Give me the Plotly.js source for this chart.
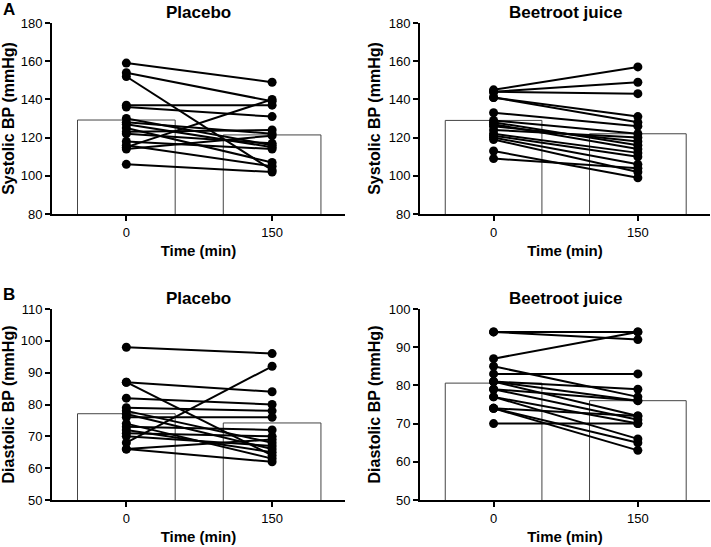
<!DOCTYPE html>
<html><head><meta charset="utf-8">
<script src="https://cdn.plot.ly/plotly-3.0.1.min.js"></script>
<style>html,body{margin:0;padding:0;background:#fff}#chart{width:711px;height:547px}</style>
</head><body><div id="chart"></div>
<script>
// ---- data ----
const times = ['0', '150'];
const tickLabels = ['0', '150'];

// Panel A left: Placebo, systolic BP (mmHg)
const placeboSBP0   = [159, 154, 152, 137, 136, 130, 128, 127, 125, 123, 122, 118, 116, 115, 114, 106];
const placeboSBP150 = [149, 139, 103, 137, 131, 116, 122, 115, 107, 124, 117, 114, 105, 140, 121, 102];
const placeboSBPMean = [129.2, 121.4];

// Panel A right: Beetroot juice, systolic BP
const beetSBP0   = [145, 144, 144, 141, 141, 133, 129, 128, 127, 126, 124, 122, 121, 120, 119, 113, 109];
const beetSBP150 = [157, 149, 143, 131, 128, 126, 122, 116, 114, 118, 120, 112, 110, 106, 102, 99, 104];
const beetSBPMean = [129.0, 122.0];

// Panel B left: Placebo, diastolic BP
const placeboDBP0   = [98, 87, 87, 82, 79, 78, 77, 76, 74, 73, 72, 71, 70, 68, 66, 66];
const placeboDBP150 = [96, 84, 64, 80, 78, 68, 66, 76, 63, 72, 65, 70, 67, 92, 69, 62];
const placeboDBPMean = [77.1, 74.2];

// Panel B right: Beetroot juice, diastolic BP
const beetDBP0   = [94, 94, 87, 85, 83, 81, 81, 81, 79, 79, 77, 77, 74, 74, 74, 70];
const beetDBP150 = [94, 92, 94, 77, 83, 79, 76, 72, 71, 76, 70, 66, 72, 65, 63, 70];
const beetDBPMean = [80.6, 76.0];

const panelTitles = ['Placebo', 'Beetroot juice', 'Placebo', 'Beetroot juice'];
const yTitles = ['Systolic BP (mmHg)', 'Systolic BP (mmHg)', 'Diastolic BP (mmHg)', 'Diastolic BP (mmHg)'];
const sigMarks = ['*', '*', '', '**'];

// ---- build ----
const W = 711, H = 547;
const FONT = 'Liberation Sans, Arial, sans-serif';
const px = (a, b) => [a / W, b / W];
const py = (top, bottom) => [1 - bottom / H, 1 - top / H];

const panels = [
  {t0: placeboSBP0, t1: placeboSBP150, mean: placeboSBPMean, xd: px(52, 345), yd: py(23, 214), yr: [80, 180], dt: 20},
  {t0: beetSBP0, t1: beetSBP150, mean: beetSBPMean, xd: px(420, 710), yd: py(23, 214), yr: [80, 180], dt: 20},
  {t0: placeboDBP0, t1: placeboDBP150, mean: placeboDBPMean, xd: px(52, 345), yd: py(309, 500), yr: [50, 110], dt: 10},
  {t0: beetDBP0, t1: beetDBP150, mean: beetDBPMean, xd: px(420, 710), yd: py(309, 500), yr: [50, 100], dt: 10}
];

const traces = [];
const layout = {
  width: W, height: H, margin: {l: 0, r: 0, t: 0, b: 0},
  paper_bgcolor: '#fff', plot_bgcolor: '#fff', showlegend: false,
  font: {family: FONT, color: '#000', size: 12},
  annotations: []
};

panels.forEach((p, i) => {
  const n = i + 1;
  const xa = 'x' + (n === 1 ? '' : n), ya = 'y' + (n === 1 ? '' : n);
  traces.push({
    type: 'bar', x: times, y: p.mean, xaxis: xa, yaxis: ya, width: 0.67,
    marker: {color: '#fff', line: {color: '#444', width: 1}}, hoverinfo: 'skip'
  });
  for (let k = 0; k < p.t0.length; k++) {
    traces.push({
      type: 'scatter', mode: 'lines+markers', x: times, y: [p.t0[k], p.t1[k]],
      xaxis: xa, yaxis: ya, cliponaxis: false,
      line: {color: '#000', width: 2}, marker: {color: '#000', size: 9}
    });
  }
  const axX = {
    domain: p.xd, anchor: ya, type: 'category', range: [-0.51, 1.5],
    showline: true, linecolor: '#000', linewidth: 2, ticks: 'outside', ticklen: 5, tickwidth: 2, tickcolor: '#000',
    tickvals: times, ticktext: tickLabels, showgrid: false, zeroline: false, fixedrange: true,
    tickfont: {family: FONT, size: 13, color: '#000'},
    title: {text: '<b>Time (min)</b>', font: {family: FONT, size: 15, color: '#000'}, standoff: 7}
  };
  const axY = {
    domain: p.yd, anchor: xa, range: p.yr, dtick: p.dt, tick0: p.yr[0],
    showline: true, linecolor: '#000', linewidth: 2, ticks: 'outside', ticklen: 5, tickwidth: 2, tickcolor: '#000',
    showgrid: false, zeroline: false, fixedrange: true,
    tickfont: {family: FONT, size: 13, color: '#000'},
    title: {text: '<b>' + yTitles[i] + '</b>', font: {family: FONT, size: 16, color: '#000'}, standoff: 4}
  };
  layout['xaxis' + (n === 1 ? '' : n)] = axX;
  layout['yaxis' + (n === 1 ? '' : n)] = axY;
  layout.annotations.push({
    text: '<b>' + panelTitles[i] + '</b>', xref: 'paper', yref: 'paper',
    x: (p.xd[0] + p.xd[1]) / 2, y: p.yd[1], yshift: 11, xanchor: 'center', yanchor: 'middle',
    showarrow: false, font: {family: FONT, size: 17, color: '#000'}
  });
  if (sigMarks[i]) {
    layout.annotations.push({
      text: sigMarks[i], xref: xa, yref: ya, x: times[1], y: Math.max(...p.t1),
      yshift: 13, showarrow: false, font: {family: FONT, size: 13, color: '#888'}
    });
  }
});

['A', 'B'].forEach((L, j) => {
  layout.annotations.push({
    text: '<b>' + L + '</b>', xref: 'paper', yref: 'paper', x: 1 / W, y: 1 - (j === 0 ? 9 : 294) / H,
    xanchor: 'left', yanchor: 'middle', showarrow: false, font: {family: FONT, size: 17, color: '#000'}
  });
});

Plotly.newPlot('chart', traces, layout, {staticPlot: true, displayModeBar: false});
</script></body></html>
